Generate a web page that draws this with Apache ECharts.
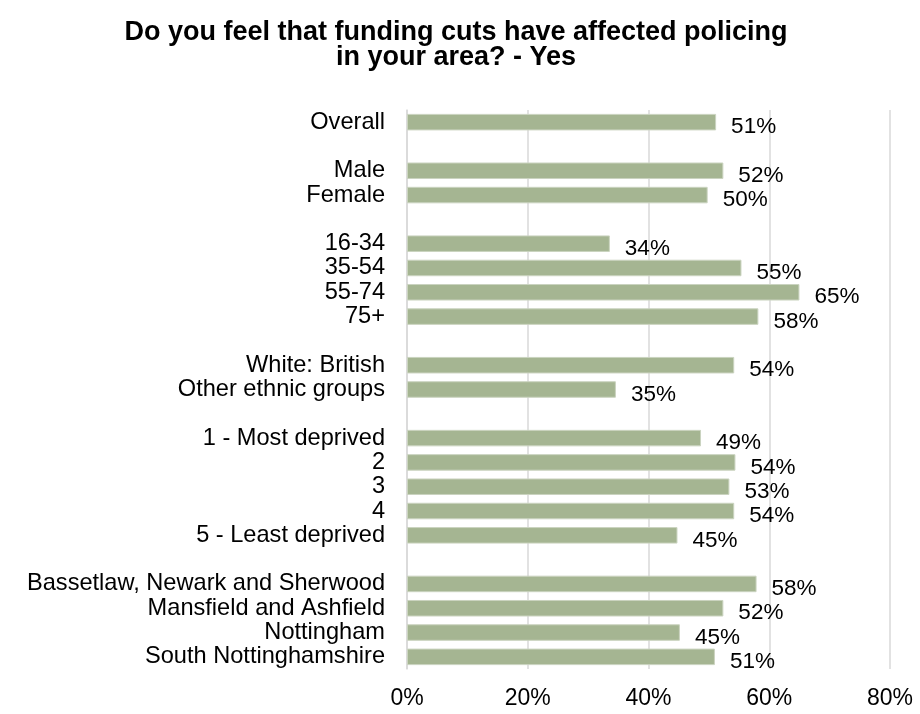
<!DOCTYPE html>
<html>
<head>
<meta charset="utf-8">
<script src="https://cdn.jsdelivr.net/npm/echarts@6/dist/echarts.min.js"></script>
<style>html,body{margin:0;padding:0;background:#fff}#c{width:920px;height:714px}</style>
</head>
<body>
<div id="c"></div>
<script>
var titleText = 'Do you feel that funding cuts have affected policing\nin your area? - Yes';
var categories = ['Overall', '', 'Male', 'Female', '', '16-34', '35-54', '55-74', '75+', '',
  'White: British', 'Other ethnic groups', '', '1 - Most deprived', '2', '3', '4', '5 - Least deprived', '',
  'Bassetlaw, Newark and Sherwood', 'Mansfield and Ashfield', 'Nottingham', 'South Nottinghamshire'];
var yesValues = [51.2, null, 52.4, 49.8, null, 33.6, 55.4, 65.0, 58.2, null,
  54.2, 34.6, null, 48.7, 54.4, 53.4, 54.2, 44.8, null,
  57.9, 52.4, 45.2, 51.0];
var xTicks = [0, 20, 40, 60, 80];

var FONT = 'Liberation Sans, Arial, sans-serif';
var chart = echarts.init(document.getElementById('c'));
chart.setOption({
  animation: false,
  title: {
    text: titleText, left: 451, top: 15, textAlign: 'center',
    textStyle: {fontFamily: FONT, fontSize: 27, fontWeight: 'bold', color: '#000', lineHeight: 25}
  },
  grid: {left: 407, right: 30, top: 110, bottom: 45, containLabel: false},
  xAxis: {
    type: 'value', min: xTicks[0], max: xTicks[xTicks.length - 1], interval: 20,
    axisLine: {show: false}, axisTick: {show: false},
    splitLine: {lineStyle: {color: '#d9d9d9', width: 1.5}},
    axisLabel: {formatter: '{value}%', margin: 18, fontFamily: FONT, fontSize: 23, color: '#000'}
  },
  yAxis: {
    type: 'category', data: categories, inverse: true,
    axisLine: {show: true, lineStyle: {color: '#d9d9d9', width: 1.5}}, axisTick: {show: false},
    axisLabel: {margin: 22, fontFamily: FONT, fontSize: 23.6, color: '#000', interval: 0, padding: [9, 0, 0, 0]}
  },
  series: [{
    type: 'bar', data: yesValues, barCategoryGap: '32%',
    itemStyle: {color: '#a5b592', borderColor: '#cbd4c0', borderWidth: 1},
    label: {
      show: true, position: 'right', distance: 15, offset: [0, 5],
      fontFamily: FONT, fontSize: 22.5, color: '#000',
      formatter: function (p) { return p.value == null ? '' : Math.round(p.value) + '%'; }
    }
  }]
});
</script>
</body>
</html>
